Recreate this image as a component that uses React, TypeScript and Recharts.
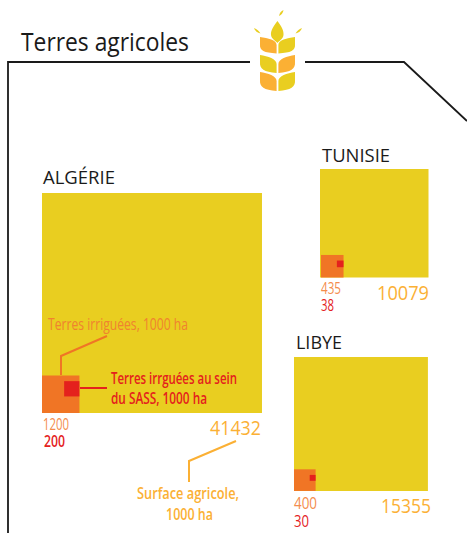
import React from 'react';
import { ComposedChart, XAxis, YAxis, ReferenceArea } from 'recharts';

// 1000 ha
const countries = ['ALGÉRIE', 'TUNISIE', 'LIBYE'];
const surfaceAgricole = [41432, 10079, 15355];
const terresIrriguees = [1200, 435, 400];
const terresSass = [200, 38, 30];

// pixels per sqrt(1000 ha): the squares are area-proportional
const PX = 1.0808;
const RED_GAP = 5.6;

const YELLOW = '#E9CE20';
const ORANGE = '#F07525';
const RED = '#E4211D';
const AMBER = '#FBB034';
const ORANGE_TEXT = '#F48C4C';
const CONDENSED_ORANGE = '#F0822F';
const BLACK = '#1A1A1A';

const squareLeft = [42, 320, 294];
const squareTop = [193, 169, 357];
const orangeInset = [0, 1, 0];

type PanelProps = { index: number };

const SquarePanel: React.FC<PanelProps> = ({ index }) => {
  const total = Math.sqrt(surfaceAgricole[index]);
  const irrigated = Math.sqrt(terresIrriguees[index]);
  const sass = Math.sqrt(terresSass[index]);
  const inset = orangeInset[index] / PX;
  const gap = RED_GAP / PX;
  const side = total * PX;

  return (
    <div style={{ position: 'absolute', left: squareLeft[index], top: squareTop[index] }}>
      <ComposedChart width={side} height={side} margin={{ top: 0, right: 0, bottom: 0, left: 0 }} data={[]}>
        <XAxis type="number" dataKey="x" domain={[0, total]} hide allowDataOverflow />
        <YAxis type="number" dataKey="y" domain={[0, total]} hide allowDataOverflow />
        <ReferenceArea x1={0} x2={total} y1={0} y2={total} fill={YELLOW} fillOpacity={1} stroke="none" />
        <ReferenceArea x1={inset} x2={inset + irrigated} y1={0} y2={irrigated} fill={ORANGE} fillOpacity={1} stroke="none" />
        <ReferenceArea
          x1={inset + irrigated - sass}
          x2={inset + irrigated}
          y1={irrigated - gap - sass}
          y2={irrigated - gap}
          fill={RED}
          fillOpacity={1}
          stroke="none"
        />
      </ComposedChart>
    </div>
  );
};

type LabelProps = {
  x: number;
  y: number;
  w: number;
  size: number;
  color: string;
  bold?: boolean;
  children: string;
};

const Label: React.FC<LabelProps> = ({ x, y, w, size, color, bold, children }) => (
  <text
    x={x}
    y={y}
    fill={color}
    fontSize={size}
    fontWeight={bold ? 600 : 400}
    fontFamily="'Open Sans', sans-serif"
    textLength={w}
    lengthAdjust="spacingAndGlyphs"
  >
    {children}
  </text>
);

// one wheat leaf, mirrored around the stem
const leaf = (top: number, inner: number, bottom: number, belly: number, mirror: boolean) => {
  const x = (v: number) => (mirror ? 555 - v : v);
  return `M${x(260)} ${top} C${x(268)} ${top + 1} ${x(276.6)} ${inner - 5} ${x(276.6)} ${inner} L${x(276.6)} ${bottom} C${x(264)} ${bottom - 1} ${x(259.5)} ${belly + 7} ${x(260)} ${belly} Z`;
};

const Wheat = () => (
  <g>
    <path d="M277.4 21 C281 26 284 30 283.5 35 C283 39 279 41 277.4 43 C276 41 271.5 39 271 35 C270.5 30 274 26 277.4 21 Z" fill={YELLOW} />
    <path d="M283.5 10 C281 11 279.5 13 279 16 C281.5 15 283 13 283.5 10 Z" fill={YELLOW} />
    <path d="M254 28 C257 29 259 31 260.5 33.5 C257.5 33 255 31 254 28 Z" fill={YELLOW} />
    <path d="M302 28 C299 29 297 31 295.5 33.5 C298.5 33 301 31 302 28 Z" fill={YELLOW} />
    <path d={leaf(37, 45, 53.5, 44, false)} fill={AMBER} />
    <path d={leaf(37, 45, 53.5, 44, true)} fill={YELLOW} />
    <path d={leaf(55, 64, 73, 62, false)} fill={YELLOW} />
    <path d={leaf(55, 64, 73, 62, true)} fill={AMBER} />
    <path d={leaf(72, 81, 91, 80, false)} fill={AMBER} />
    <path d={leaf(72, 81, 91, 80, true)} fill={YELLOW} />
  </g>
);

const Overlay = () => (
  <svg width={467} height={533} style={{ position: 'absolute', left: 0, top: 0 }}>
    <polyline points="8,533 8,62 250,62" fill="none" stroke={BLACK} strokeWidth={1.8} />
    <polyline points="305,62 404,62 467,121" fill="none" stroke={BLACK} strokeWidth={1.8} />
    <Wheat />

    <Label x={21} y={51} w={168} size={25} color={BLACK}>Terres agricoles</Label>
    <Label x={43} y={184} w={72} size={18} color={BLACK}>{countries[0]}</Label>
    <Label x={322} y={162} w={68} size={18} color={BLACK}>{countries[1]}</Label>
    <Label x={296} y={349} w={46} size={18} color={BLACK}>{countries[2]}</Label>

    {/* leaders */}
    <polyline points="61,375 61,356 107,336" fill="none" stroke={ORANGE} strokeWidth={2} />
    <polyline points="80,388 107,388" fill="none" stroke={RED} strokeWidth={2} />
    <polyline points="236,441 189,461 189,482" fill="none" stroke={AMBER} strokeWidth={2} />

    <Label x={48} y={330} w={140} size={17} color={CONDENSED_ORANGE}>Terres irriguées, 1000 ha</Label>
    <Label x={111} y={384} w={126} size={17} color={RED} bold>Terres irrguées au sein</Label>
    <Label x={111} y={404} w={96} size={17} color={RED} bold>du SASS, 1000 ha</Label>
    <Label x={137} y={499} w={102} size={17} color={AMBER} bold>Surface agricole,</Label>
    <Label x={166} y={520} w={47} size={17} color={AMBER} bold>1000 ha</Label>

    <Label x={43} y={430} w={26} size={16} color={ORANGE_TEXT}>{String(terresIrriguees[0])}</Label>
    <Label x={44} y={447} w={21} size={16} color={RED} bold>{String(terresSass[0])}</Label>
    <Label x={210} y={435} w={51} size={20} color={AMBER}>{String(surfaceAgricole[0])}</Label>

    <Label x={321} y={294} w={20} size={16} color={ORANGE_TEXT}>{String(terresIrriguees[1])}</Label>
    <Label x={321} y={311} w={13} size={16} color={RED}>{String(terresSass[1])}</Label>
    <Label x={377} y={300} w={52} size={20} color={AMBER}>{String(surfaceAgricole[1])}</Label>

    <Label x={294} y={509} w={23} size={16} color={ORANGE_TEXT}>{String(terresIrriguees[2])}</Label>
    <Label x={294} y={527} w={15} size={16} color={RED}>{String(terresSass[2])}</Label>
    <Label x={381} y={513} w={50} size={20} color={AMBER}>{String(surfaceAgricole[2])}</Label>
  </svg>
);

export default function App() {
  return (
    <div style={{ position: 'absolute', left: 0, top: 0, width: 467, height: 533, overflow: 'hidden', background: '#fff' }}>
      {countries.map((name, i) => (
        <SquarePanel key={name} index={i} />
      ))}
      <Overlay />
    </div>
  );
}
